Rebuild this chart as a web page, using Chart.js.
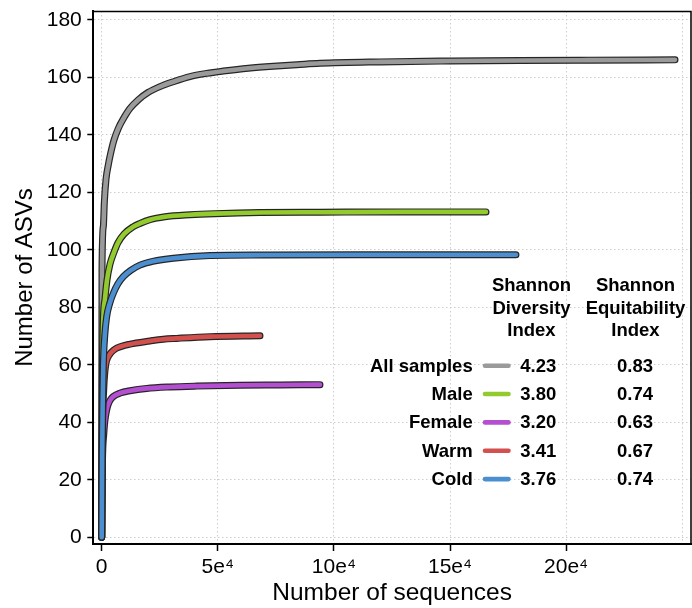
<!DOCTYPE html>
<html><head><meta charset="utf-8">
<script src="https://cdn.jsdelivr.net/npm/chart.js@4/dist/chart.umd.min.js"></script>
<style>html,body{margin:0;padding:0;background:#fff;}canvas{display:block;}</style>
</head><body>
<canvas id="c" width="692" height="608" style="width:692px;height:608px"></canvas>
<script>
// ---- data ----
const seriesNames = ['All samples', 'Male', 'Female', 'Warm', 'Cold'];
const shannonDiversity = ['4.23', '3.80', '3.20', '3.41', '3.76'];
const shannonEquitability = ['0.83', '0.74', '0.63', '0.67', '0.74'];

const allX = [0, 40, 90, 129, 703, 1133, 1852, 2855, 3863, 5297, 7163, 9315, 12188, 15776, 20082, 25108, 30848, 38027, 45205, 52383, 63148, 73915, 83965, 94013, 120000, 150000, 180000, 210000, 246900];
const allY = [0, 30, 65, 93, 108.1, 116.5, 124.5, 129.6, 133.6, 138.2, 142.3, 145.6, 149.2, 152.2, 154.8, 156.8, 158.5, 160.3, 161.4, 162.2, 163.2, 163.9, 164.4, 164.9, 165.4, 165.7, 165.9, 166.0, 166.1];

const maleX = [0, 150, 560, 1420, 2280, 3570, 5000, 7020, 9600, 13480, 16490, 20800, 27260, 38030, 48800, 68170, 94000, 130000, 165500];
const maleY = [0, 40, 72, 83, 89.5, 95, 98.5, 102.5, 105.5, 108, 109.2, 110.5, 111.5, 112.2, 112.6, 113.0, 113.1, 113.2, 113.2];

const femaleX = [0, 300, 900, 1300, 1850, 2600, 3570, 4870, 8000, 12190, 19380, 29415, 40900, 59560, 76770, 94000];
const femaleY = [0, 25, 36, 40, 43.1, 45.8, 47.6, 48.9, 50.2, 51.0, 51.8, 52.3, 52.6, 52.9, 53.0, 53.1];

const warmX = [0, 300, 900, 1300, 1850, 2600, 3570, 5000, 6460, 12190, 20800, 26530, 32300, 46640, 68170];
const warmY = [0, 35, 52, 57, 60.5, 62.5, 63.8, 65.0, 65.8, 67.2, 68.3, 68.9, 69.2, 69.8, 70.1];

const coldX = [0, 200, 400, 690, 1300, 2150, 3500, 5000, 7000, 9300, 12500, 16490, 22000, 30840, 46640, 70000, 110000, 178400];
const coldY = [0, 28, 45, 59.4, 70, 76.8, 81.5, 84.9, 88.2, 90.7, 92.9, 94.7, 96.0, 97.1, 98.0, 98.2, 98.3, 98.3];

const xTickValues = [0, 50000, 100000, 150000, 200000, 250000];
const xTickLabels = ['0', '5e\u2074', '10e\u2074', '15e\u2074', '20e\u2074', ''];
const yTickValues = [0, 20, 40, 60, 80, 100, 120, 140, 160, 180];

// ---- styles ----
const seriesColors = ['#9a9a9a', '#93cb2f', '#b54fd1', '#d2514f', '#4b8fd0'];
const FONT = "'Liberation Sans', Arial, Helvetica, sans-serif";

const seriesX = [allX, maleX, femaleX, warmX, coldX];
const seriesY = [allY, maleY, femaleY, warmY, coldY];

function pts(xs, ys) { return xs.map((x, i) => ({ x: x, y: ys[i] })); }

const datasets = [];
seriesNames.forEach((name, i) => {
  const ord = (seriesNames.length - 1 - i) * 2;
  const common = {
    data: pts(seriesX[i], seriesY[i]),
    pointRadius: 0, fill: false,
    cubicInterpolationMode: 'monotone',
    borderCapStyle: 'round', borderJoinStyle: 'round'
  };
  datasets.push(Object.assign({ label: name + ' outline', borderColor: '#262626', borderWidth: 7, order: ord + 1 }, common));
  datasets.push(Object.assign({ label: name, borderColor: seriesColors[i], borderWidth: 4.6, order: ord }, common));
});

const framePlugin = {
  id: 'frame',
  afterDraw(chart) {
    const { ctx, chartArea: a } = chart;
    ctx.save();
    ctx.strokeStyle = '#000';
    ctx.lineWidth = 1.5;
    ctx.beginPath();
    ctx.moveTo(a.left, a.top + 0.5);
    ctx.lineTo(a.right, a.top + 0.5);
    ctx.lineTo(a.right, a.bottom);
    ctx.stroke();
    ctx.restore();
  }
};

const tablePlugin = {
  id: 'shannonTable',
  afterDraw(chart) {
    const ctx = chart.ctx;
    ctx.save();
    ctx.fillStyle = '#000';
    ctx.font = 'bold 18.5px ' + FONT;
    ctx.textBaseline = 'alphabetic';
    ctx.textAlign = 'center';
    const head1 = ['Shannon', 'Diversity', 'Index'];
    const head2 = ['Shannon', 'Equitability', 'Index'];
    const headBase = [290.7, 313.5, 336.3];
    head1.forEach((t, i) => ctx.fillText(t, 531.5, headBase[i]));
    head2.forEach((t, i) => ctx.fillText(t, 635.5, headBase[i]));
    seriesNames.forEach((name, i) => {
      const base = 371.7 + 28.35 * i;
      ctx.textAlign = 'right';
      ctx.fillText(name, 472.7, base);
      ctx.textAlign = 'center';
      ctx.fillText(shannonDiversity[i], 538.3, base);
      ctx.fillText(shannonEquitability[i], 635, base);
      ctx.strokeStyle = seriesColors[i];
      ctx.lineWidth = 4.6;
      ctx.lineCap = 'round';
      ctx.beginPath();
      ctx.moveTo(485, base - 6);
      ctx.lineTo(508.5, base - 6);
      ctx.stroke();
    });
    ctx.restore();
  }
};

new Chart(document.getElementById('c'), {
  type: 'line',
  data: { datasets: datasets },
  options: {
    responsive: false, animation: false, devicePixelRatio: 1,
    layout: { padding: { top: 11, right: 1, left: 0, bottom: 0 } },
    plugins: { legend: { display: false }, tooltip: { enabled: false } },
    scales: {
      x: {
        type: 'linear', min: -3618, max: 253790,
        afterBuildTicks: s => { s.ticks = xTickValues.map(v => ({ value: v })); },
        afterFit: s => { s.height = 64; s.paddingLeft = 0; s.paddingRight = 0; },
        grid: {
          color: '#cccccc', lineWidth: 1, tickLength: 7, tickWidth: 1.5,
          tickColor: c => (c.index === xTickValues.length - 1 ? 'rgba(0,0,0,0)' : '#000')
        },
        border: { display: true, color: '#000', width: 2, dash: [1.5, 2.5] },
        ticks: {
          color: '#000', font: { family: FONT, size: 21 }, padding: 3.5,
          maxRotation: 0, autoSkip: false,
          callback: (v, i) => xTickLabels[i]
        },
        title: { display: true, text: 'Number of sequences', color: '#000', font: { family: FONT, size: 24.5 }, padding: { top: 0, bottom: 0.5 } }
      },
      y: {
        type: 'linear', min: -2.33, max: 183.1,
        afterBuildTicks: s => { s.ticks = yTickValues.map(v => ({ value: v })); },
        afterFit: s => { s.width = 93.3; s.paddingTop = 0; s.paddingBottom = 0; },
        grid: { color: '#cccccc', lineWidth: 1, tickLength: 6, tickWidth: 1.5, tickColor: '#000' },
        border: { display: true, color: '#000', width: 2, dash: [1.5, 2.5] },
        ticks: { color: '#000', font: { family: FONT, size: 21 }, padding: 5.5, autoSkip: false },
        title: { display: true, text: 'Number of ASVs', color: '#000', font: { family: FONT, size: 24 }, padding: { top: 10.6, bottom: 0 } }
      }
    }
  },
  plugins: [framePlugin, tablePlugin]
});
</script>
</body></html>
